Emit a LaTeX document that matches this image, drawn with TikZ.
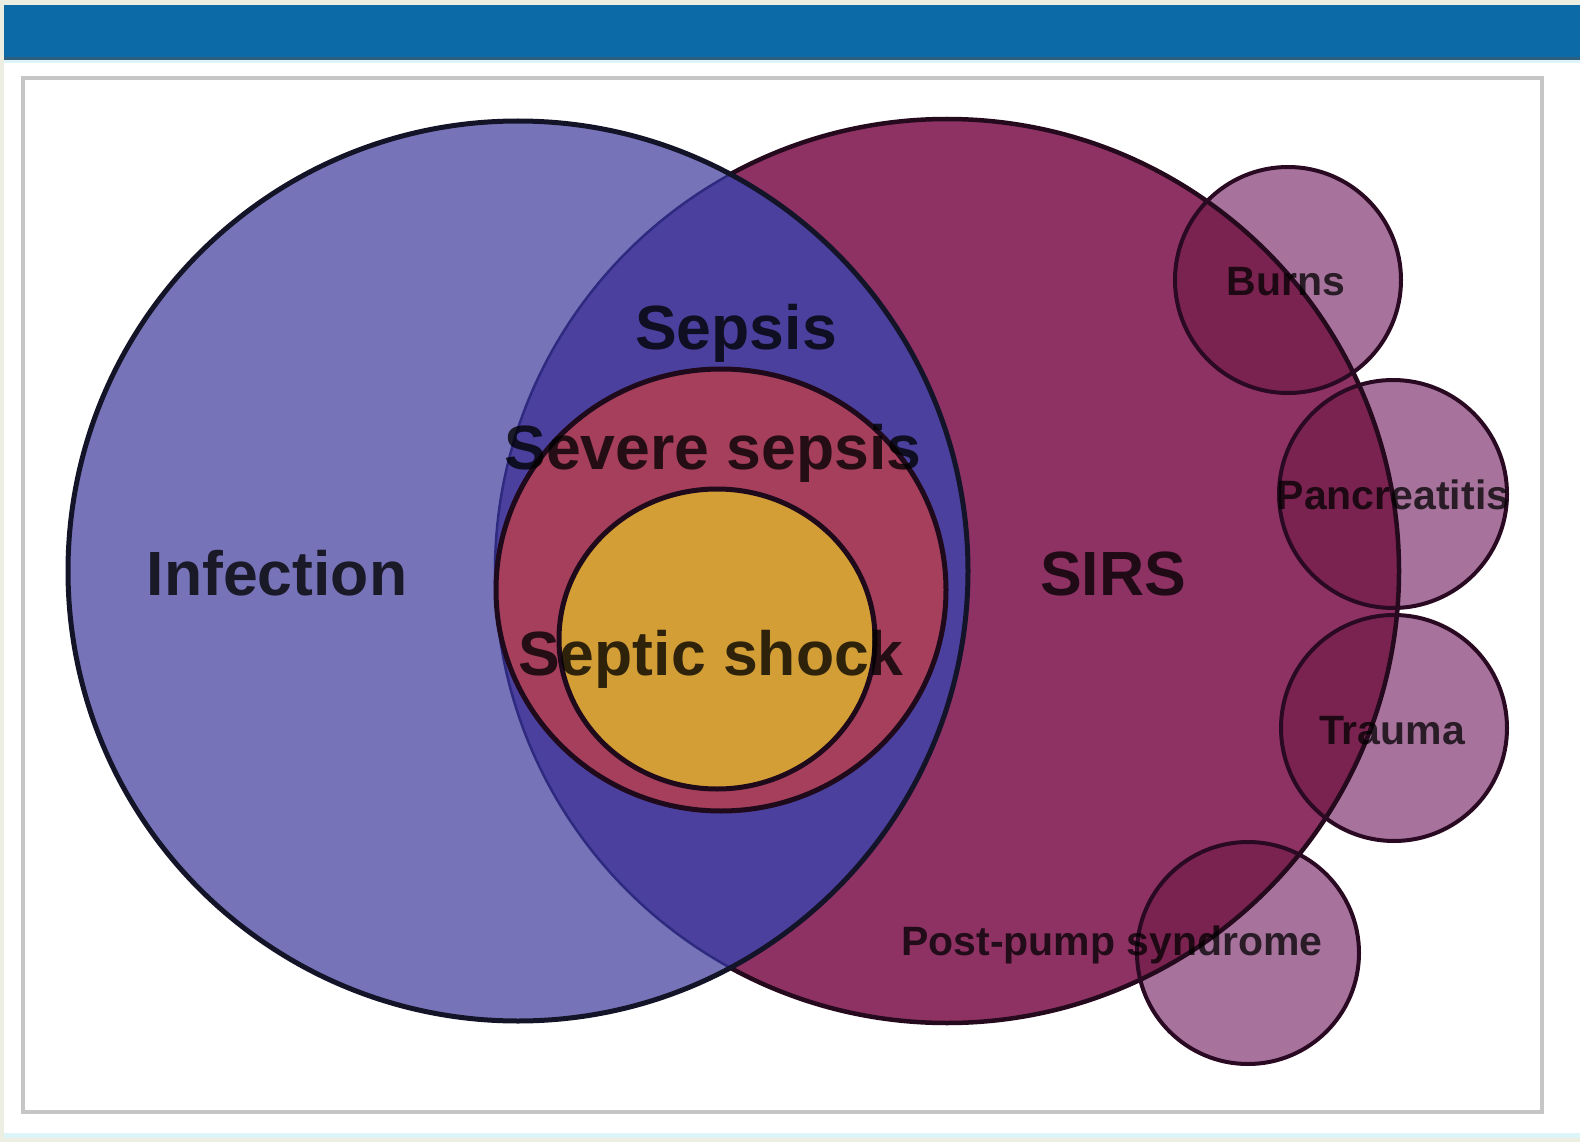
\documentclass[tikz,border=0pt]{standalone}
\usepackage{fontspec}
\setmainfont{Liberation Sans}
\definecolor{pagebg}{HTML}{ECEEE2}
\definecolor{barc}{HTML}{0C6BA6}
\definecolor{barshadow}{HTML}{2F5F7F}
\definecolor{cyanline}{HTML}{DDF5F8}
\definecolor{framec}{HTML}{C6C6C6}
\definecolor{infc}{HTML}{7773B8}
\definecolor{lensc}{HTML}{4B409E}
\definecolor{lenslinec}{HTML}{2E2A80}
\definecolor{sirsc}{HTML}{8E3264}
\definecolor{severec}{HTML}{A53F5C}
\definecolor{shockc}{HTML}{D39E36}
\definecolor{smalllight}{HTML}{A7739D}
\definecolor{smalldark}{HTML}{7B2350}
\definecolor{inflinec}{HTML}{141428}
\definecolor{sirslinec}{HTML}{250A1E}
\definecolor{smalllinec}{HTML}{2A0A22}
\definecolor{innerlinec}{HTML}{1E0A1A}
\begin{document}
\begin{tikzpicture}[x=1pt,y=-1pt,
  biglabel/.style={font=\fontsize{62.5}{62.5}\selectfont\bfseries, text=black, text opacity=0.78, anchor=base, inner sep=0pt},
  smalllabel/.style={font=\fontsize{41}{41}\selectfont\bfseries, text=black, text opacity=0.75, anchor=base, inner sep=0pt},
  infline/.style={draw=inflinec, line width=5pt},
  sirsline/.style={draw=sirslinec, line width=4.5pt},
  smallline/.style={draw=smalllinec, line width=4pt},
  innerline/.style={draw=innerlinec, line width=5pt},
  lensline/.style={draw=lenslinec, line width=2.5pt}]
\useasboundingbox (0,0) rectangle (1580,1142);
% page background
\fill[pagebg] (0,0) rectangle (1580,1142);
\fill[white] (4,60) rectangle (1580,1136);
\fill[cyanline] (4,1133) rectangle (1580,1138);
\fill[cyanline] (4,60) rectangle (1580,63);
% top bar
\fill[barc] (4,5) rectangle (1580,60);
\fill[barshadow] (4,57) rectangle (1580,60);
% frame
\draw[framec, line width=4.5pt] (23,78) rectangle (1542,1112);
% coordinates
\coordinate (inf) at (518,571);
\coordinate (sirs) at (947,571);
\coordinate (sev) at (721,590);
\coordinate (shk) at (717,639);
\coordinate (burns) at (1288,280);
\coordinate (panc) at (1393,494);
\coordinate (trau) at (1394,728);
\coordinate (pump) at (1248,953);
% SIRS
\fill[sirsc] (sirs) circle (452);
\draw[sirsline] (sirs) circle (452);
% Infection
\fill[infc] (inf) circle (450);
\begin{scope}
  \clip (inf) circle (450);
  \fill[lensc] (sirs) circle (452);
  \draw[lensline] (sirs) circle (452);
\end{scope}
\draw[infline] (inf) circle (450);
% Severe sepsis and septic shock
\fill[severec] (sev) ellipse [x radius=225, y radius=221];
\draw[innerline] (sev) ellipse [x radius=225, y radius=221];
\fill[shockc] (shk) ellipse [x radius=158, y radius=150];
\draw[innerline] (shk) ellipse [x radius=158, y radius=150];
% small circles
\fill[smalllight] (burns) circle (113) (panc) circle (114) (trau) circle (113) (pump) circle (111);
\begin{scope}
  \clip (sirs) circle (452);
  \fill[smalldark] (burns) circle (113) (panc) circle (114) (trau) circle (113) (pump) circle (111);
\end{scope}
\begin{scope}
  \clip (burns) circle (113) (panc) circle (114) (trau) circle (113) (pump) circle (111);
  \draw[sirsline] (sirs) circle (452);
\end{scope}
\draw[smallline] (burns) circle (113);
\draw[smallline] (panc) circle (114);
\draw[smallline] (trau) circle (113);
\draw[smallline] (pump) circle (111);
% labels
\node[biglabel] (lsepsis) at (736,349) {Sepsis};
\node[biglabel] (lsevere) at (713,469) {Severe sepsis};
\node[biglabel] (linfection) at (277,595) {Infection};
\node[biglabel] (lsirs) at (1113,595) {SIRS};
\node[biglabel] (lshock) at (711,675) {Septic shock};
\node[smalllabel] (lburns) at (1286,295) {Burns};
\node[smalllabel] (lpanc) at (1393,509) {Pancreatitis};
\node[smalllabel] (ltrauma) at (1392,744) {Trauma};
\node[smalllabel] (lpump) at (1112,955) {Post-pump syndrome};
\end{tikzpicture}
\end{document}
